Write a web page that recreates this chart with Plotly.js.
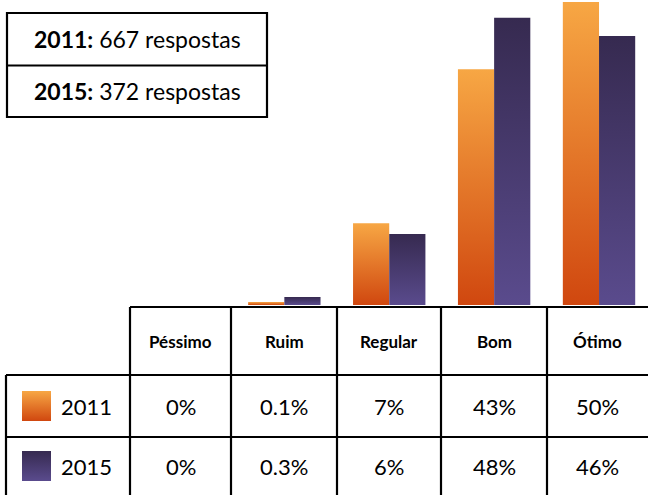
<!DOCTYPE html>
<html>
<head>
<meta charset="utf-8">
<script src="https://cdn.plot.ly/plotly-3.0.1.min.js"></script>
<style>
html,body{margin:0;padding:0;background:#fff;}
#chart{width:648px;height:495px;}
</style>
</head>
<body>
<div id="chart"></div>
<script>
// ---- data ----
const categories = ["Péssimo", "Ruim", "Regular", "Bom", "Ótimo"];
const years = ["2011", "2015"];
// bar heights as drawn in the picture
const bars2011 = [0, 0.5, 13.5, 38.9, 50];
const bars2015 = [0, 1.3, 11.7, 47.4, 44.4];
// table labels
const labels2011 = ["0%", "0.1%", "7%", "43%", "50%"];
const labels2015 = ["0%", "0.3%", "6%", "48%", "46%"];
const responses = ["667 respostas", "372 respostas"];

// ---- layout helpers ----
const W = 648, H = 495;
const px = x => x / W;
const py = y => 1 - y / H;
const FONT = "Lato, 'Open Sans', sans-serif";

const traces = [
  {type: "bar", name: years[0], x: categories, y: bars2011, marker: {color: "#E8782A", line: {width: 0}}, hoverinfo: "skip"},
  {type: "bar", name: years[1], x: categories, y: bars2015, marker: {color: "#463A6E", line: {width: 0}}, hoverinfo: "skip"}
];

const shapes = [];
const annotations = [];
const line = {color: "#000", width: 2.2};
function hline(x0, x1, y) { shapes.push({type: "line", xref: "paper", yref: "paper", x0: px(x0), x1: px(x1), y0: py(y), y1: py(y), line}); }
function vline(x, y0, y1) { shapes.push({type: "line", xref: "paper", yref: "paper", x0: px(x), x1: px(x), y0: py(y0), y1: py(y1), line}); }

// response count box
const boxL = 7, boxR = 267, boxT = 13, boxM = 65.5, boxB = 117;
shapes.push({type: "rect", xref: "paper", yref: "paper", x0: px(boxL), x1: px(boxR), y0: py(boxB), y1: py(boxT), line: {color: "#000", width: 2.2}});
hline(boxL, boxR, boxM);
[ (boxT + boxM) / 2, (boxM + boxB) / 2 ].forEach((yc, i) => {
  annotations.push({xref: "paper", yref: "paper", x: px((boxL + boxR) / 2), y: py(yc), xanchor: "center", yanchor: "middle",
    text: "<b>" + years[i] + ":</b> " + responses[i], showarrow: false, font: {family: FONT, size: 23, color: "#000"}});
});

// table grid
const colX = [130, 231, 337, 441, 547, 648];
const rowY = [307, 375, 437, 495];
const tableL = 6;
hline(colX[0], 648, rowY[0]);
hline(tableL, 648, rowY[1]);
hline(tableL, 648, rowY[2]);
vline(tableL, rowY[1], 495);
colX.slice(0, 5).forEach(x => vline(x, rowY[0], 495));

// header
categories.forEach((c, i) => {
  annotations.push({xref: "paper", yref: "paper", x: px((colX[i] + colX[i + 1]) / 2), y: py(341), xanchor: "center", yanchor: "middle",
    text: "<b>" + c + "</b>", showarrow: false, font: {family: FONT, size: 17, color: "#000"}});
});
// rows
[labels2011, labels2015].forEach((row, r) => {
  const yc = (rowY[r + 1] + rowY[r + 2]) / 2;
  row.forEach((t, i) => {
    annotations.push({xref: "paper", yref: "paper", x: px((colX[i] + colX[i + 1]) / 2), y: py(yc), xanchor: "center", yanchor: "middle",
      text: t, showarrow: false, font: {family: FONT, size: 22, color: "#000"}});
  });
  // legend swatch
  shapes.push({type: "rect", xref: "paper", yref: "paper", x0: px(22), x1: px(51), y0: py(yc + 15), y1: py(yc - 15),
    line: {width: 0}, fillcolor: r === 0 ? "#E8782A" : "#463A6E", name: "swatch" + r});
  annotations.push({xref: "paper", yref: "paper", x: px(59), y: py(yc), xanchor: "left", yanchor: "middle",
    text: years[r], showarrow: false, font: {family: FONT, size: 22, color: "#000"}});
});

const layout = {
  width: W, height: H,
  margin: {l: 0, r: 0, t: 0, b: 0, pad: 0},
  paper_bgcolor: "#fff", plot_bgcolor: "#fff",
  showlegend: false,
  barmode: "group", bargap: 0.31, bargroupgap: 0,
  xaxis: {domain: [127 / W, 1], range: [-0.5, 4.467], showticklabels: false, showgrid: false, zeroline: false, showline: false, ticks: ""},
  yaxis: {domain: [py(305), py(2)], range: [0, 50], showticklabels: false, showgrid: false, zeroline: false, showline: false, ticks: ""},
  shapes, annotations
};

Plotly.newPlot("chart", traces, layout, {staticPlot: true, displayModeBar: false}).then(gd => {
  const NS = "http://www.w3.org/2000/svg";
  const svg = gd.querySelector("svg.main-svg");
  let defs = svg.querySelector("defs");
  if (!defs) { defs = document.createElementNS(NS, "defs"); svg.insertBefore(defs, svg.firstChild); }
  function grad(id, top, bottom) {
    const g = document.createElementNS(NS, "linearGradient");
    g.setAttribute("id", id); g.setAttribute("x1", "0"); g.setAttribute("y1", "0"); g.setAttribute("x2", "0"); g.setAttribute("y2", "1");
    [[0, top], [1, bottom]].forEach(([o, c]) => {
      const s = document.createElementNS(NS, "stop");
      s.setAttribute("offset", o); s.setAttribute("stop-color", c); g.appendChild(s);
    });
    defs.appendChild(g);
  }
  grad("g2011", "#F7A744", "#D0470F");
  grad("g2015", "#362A50", "#5A4B8D");
  const ids = ["g2011", "g2015"];
  gd.querySelectorAll(".trace.bars").forEach((t, i) => {
    t.querySelectorAll("path").forEach(p => { p.style.fill = "url(#" + ids[i] + ")"; });
  });
  gd.querySelectorAll(".shapelayer path").forEach(p => {
    const idx = +p.getAttribute("data-index");
    const sh = layout.shapes[idx];
    if (sh && sh.name === "swatch0") p.style.fill = "url(#g2011)";
    if (sh && sh.name === "swatch1") p.style.fill = "url(#g2015)";
  });
});
</script>
</body>
</html>
